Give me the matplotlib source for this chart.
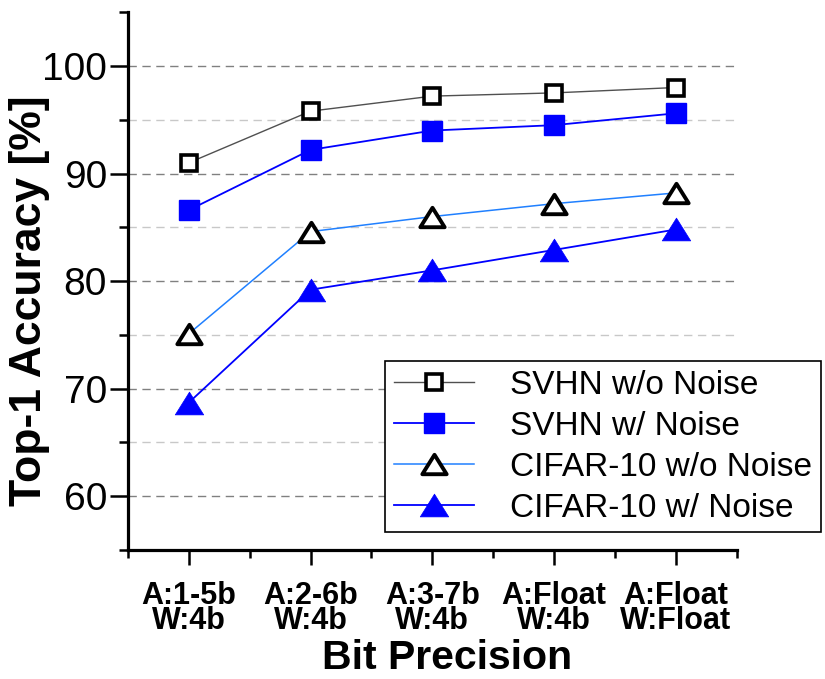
import numpy as np
import matplotlib.pyplot as plt
from matplotlib.markers import MarkerStyle
from matplotlib.path import Path

plt.rcParams['font.family'] = ['Liberation Sans', 'DejaVu Sans']

precision = ["A:1-5b\nW:4b", "A:2-6b\nW:4b", "A:3-7b\nW:4b",
             "A:Float\nW:4b", "A:Float\nW:Float"]
svhn_clean = [91.0, 95.8, 97.2, 97.5, 98.0]
svhn_noise = [86.6, 92.2, 94.0, 94.5, 95.6]
cifar_clean = [75.1, 84.6, 86.0, 87.2, 88.2]
cifar_noise = [68.7, 79.2, 81.0, 82.9, 84.8]

x = np.arange(1, len(precision) + 1)

# flatter triangle than the default '^'
tri = Path([(-1, -0.8), (1, -0.8), (0, 0.8), (-1, -0.8)],
           [Path.MOVETO, Path.LINETO, Path.LINETO, Path.CLOSEPOLY])
tri_m = MarkerStyle(tri, joinstyle='round')

fig = plt.figure(figsize=(8.25, 6.79), dpi=100)
ax = fig.add_axes([0.155, 0.19, 0.738, 0.792])

ax.plot(x, svhn_clean, color='#505050', lw=1.0, marker='s', ms=12,
        mfc='white', mec='black', mew=2.6, label='SVHN w/o Noise', zorder=5)
ax.plot(x, svhn_noise, color='#0000ff', lw=1.3, marker='s', ms=14,
        mfc='#0000ff', mec='#0000ff', label='SVHN w/ Noise', zorder=5)
ax.plot(x, cifar_clean, color='#2080ff', lw=1.1, marker=tri_m, ms=17.5,
        mfc='white', mec='black', mew=2.8, label='CIFAR-10 w/o Noise', zorder=5)
ax.plot(x, cifar_noise, color='#0000ff', lw=1.3, marker=tri_m, ms=20.5,
        mfc='#0000ff', mec='#0000ff', mew=0.5, label='CIFAR-10 w/ Noise', zorder=5)

ax.set_xlim(0.5, 5.5)
ax.set_ylim(55, 105)
ax.set_xticks(x)
ax.set_xticklabels(precision, fontsize=22, fontweight='bold', linespacing=0.82)
ax.set_xticks(np.arange(0.5, 5.6, 1.0), minor=True)
ax.set_yticks([60, 70, 80, 90, 100])
ax.set_yticks(np.arange(55, 106, 5), minor=True)
ax.tick_params(axis='y', labelsize=28, pad=2)

ax.tick_params(axis='y', which='major', length=13, width=1.8)
ax.tick_params(axis='y', which='minor', length=6.5, width=1.8)
ax.tick_params(axis='x', which='major', length=11, width=1.8, pad=11)
ax.tick_params(axis='x', which='minor', length=5.5, width=1.8)

for s in ['top', 'right']:
    ax.spines[s].set_visible(False)
for s in ['left', 'bottom']:
    ax.spines[s].set_linewidth(2.3)

for v in [60, 70, 80, 90, 100]:
    ax.axhline(v, color='#808080', lw=1.0, ls=(0, (6, 4)), zorder=1)
for v in [65, 75, 85, 95]:
    ax.axhline(v, color='#c8c8c8', lw=1.0, ls=(0, (6, 4)), zorder=1)

ax.set_ylabel('Top-1 Accuracy [%]', fontsize=32, fontweight='bold')
ax.yaxis.set_label_coords(-0.128, 0.463)
ax.set_xlabel('Bit Precision', fontsize=29.5, fontweight='bold')
ax.xaxis.set_label_coords(0.524, -0.165)

leg = ax.legend(loc='upper left', bbox_to_anchor=(0.467, 0.468),
                bbox_transform=fig.transFigure, fontsize=24, frameon=True,
                fancybox=False, edgecolor='black', framealpha=1,
                handlelength=2.4, handletextpad=1.1, labelspacing=0.3,
                borderpad=0.25, borderaxespad=0)
leg.get_frame().set_linewidth(1.2)

fig.savefig('out.png', dpi=100)
